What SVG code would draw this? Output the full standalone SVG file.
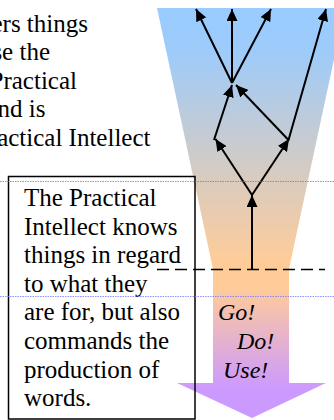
<svg xmlns="http://www.w3.org/2000/svg" width="334" height="420" viewBox="0 0 334 420">
<defs>
<linearGradient id="fun" x1="0" y1="8" x2="0" y2="418" gradientUnits="userSpaceOnUse">
<stop offset="0" stop-color="#99CCFF"/>
<stop offset="0.1" stop-color="#9DCBFB"/>
<stop offset="0.62" stop-color="#FFCC99"/>
<stop offset="0.68" stop-color="#FFCC99"/>
<stop offset="0.93" stop-color="#CC99FF"/>
<stop offset="1" stop-color="#CC99FF"/>
</linearGradient>
<marker id="ah" markerUnits="userSpaceOnUse" markerWidth="12" markerHeight="11" refX="12" refY="5.5" orient="auto">
<path d="M0,0 L12,5.5 L0,11 z" fill="#000"/>
</marker>
</defs>
<style>
.c{stroke:#000;stroke-width:2;fill:none;marker-end:url(#ah)}
</style>
<g id="funnel">
<polygon points="157,8 345,8 289,269 289,383 326,383 252,418 177,383 213,383 213,269" fill="url(#fun)"/>
</g>
<g id="intro-text">
<text font-family="Liberation Serif" font-size="25" text-anchor="end" x="88" y="31.5">ers things</text>
<text font-family="Liberation Serif" font-size="25" text-anchor="end" x="50" y="60">se the</text>
<text font-family="Liberation Serif" font-size="25" text-anchor="end" x="77" y="88.6">Practical</text>
<text font-family="Liberation Serif" font-size="25" text-anchor="end" x="45.5" y="117.2">nd is</text>
<text font-family="Liberation Serif" font-size="25" text-anchor="end" x="150.5" y="145.8">actical Intellect</text>
</g>
<g id="practical-box">
<rect x="8.5" y="176.5" width="186.5" height="242.5" fill="none" stroke="#000" stroke-width="1.5"/>
<text font-family="Liberation Serif" font-size="25" x="24" y="206">The Practical</text>
<text font-family="Liberation Serif" font-size="25" x="24" y="234.6">Intellect knows</text>
<text font-family="Liberation Serif" font-size="25" x="24" y="263.2">things in regard</text>
<text font-family="Liberation Serif" font-size="25" x="24" y="291.8">to what they</text>
<text font-family="Liberation Serif" font-size="25" x="24" y="320.4">are for, but also</text>
<text font-family="Liberation Serif" font-size="25" x="24" y="349">commands the</text>
<text font-family="Liberation Serif" font-size="25" x="24" y="377.6">production of</text>
<text font-family="Liberation Serif" font-size="25" x="24" y="406.2">words.</text>
</g>
<g id="commands">
<text font-family="Liberation Serif" font-size="24" font-style="italic" x="218" y="320.4">Go!</text>
<text font-family="Liberation Serif" font-size="24" font-style="italic" x="237" y="349">Do!</text>
<text font-family="Liberation Serif" font-size="24" font-style="italic" x="223" y="377.6">Use!</text>
</g>
<g id="connectors">
<line class="c" x1="252" y1="270" x2="252" y2="195"/>
<line class="c" x1="252" y1="195" x2="215.5" y2="139"/>
<line class="c" x1="252" y1="195" x2="289" y2="139"/>
<line class="c" x1="214" y1="140" x2="232" y2="85"/>
<line class="c" x1="288.5" y1="140" x2="236" y2="85"/>
<line class="c" x1="232" y1="83" x2="196" y2="9"/>
<line class="c" x1="232" y1="83" x2="232" y2="9"/>
<line class="c" x1="232" y1="83" x2="271" y2="9"/>
<line class="c" x1="288.5" y1="140" x2="326" y2="9"/>
</g>
<g id="threshold">
<line x1="157" y1="269.5" x2="325" y2="269.5" stroke="#000" stroke-width="1.5" stroke-dasharray="12,6"/>
</g>
<g id="guides">
<line x1="0" y1="181.5" x2="334" y2="181.5" stroke="#FF3333" stroke-width="0.7" stroke-dasharray="1.5,1"/>
<line x1="0" y1="296.5" x2="334" y2="296.5" stroke="#7777FF" stroke-width="0.8" stroke-dasharray="1.5,1"/>
</g>
</svg>
